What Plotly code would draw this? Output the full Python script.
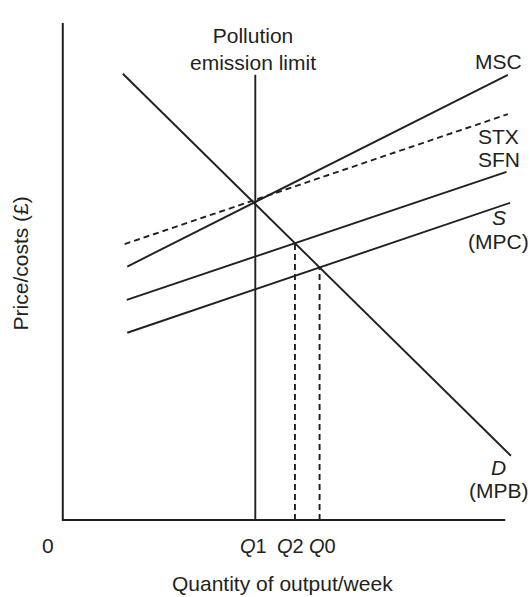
import plotly.graph_objects as go

# ---- data (chart units: quantity 0-100, price 0-100) ----
curve_names = ["D", "MSC", "STX", "SFN", "S"]
x_start = [13.6, 14.6, 14.0, 14.5, 14.6]
y_start = [89.6, 50.9, 55.4, 44.2, 37.6]
x_end = [101.5, 100.8, 100.8, 100.5, 101.3]
y_end = [12.9, 89.4, 81.5, 69.9, 63.7]
curve_dash = ["solid", "solid", "6px,4px", "solid", "solid"]

q1_limit = 43.6          # pollution emission limit
limit_top = 89.4
axis_x_max = 100.2
axis_y_max = 99.8

right_labels = ["MSC", "STX", "SFN", "<i>S</i>", "(MPC)", "<i>D</i>", "(MPB)"]
right_label_y = [92.0, 77.1, 72.3, 60.8, 56.0, 10.6, 6.0]

q_labels = ["<i>Q</i>1", "<i>Q</i>2", "<i>Q</i>0"]
q_label_x = [43.3, 51.5, 58.9]

INK = "#231f20"
FONT = "Liberation Sans, Arial, sans-serif"
FS = 21


def intersect(i, j):
    si = (y_end[i] - y_start[i]) / (x_end[i] - x_start[i])
    sj = (y_end[j] - y_start[j]) / (x_end[j] - x_start[j])
    ci = y_start[i] - si * x_start[i]
    cj = y_start[j] - sj * x_start[j]
    x = (cj - ci) / (si - sj)
    return x, ci + si * x


q2, p2 = intersect(0, 3)   # D with SFN
q0, p0 = intersect(0, 4)   # D with S

fig = go.Figure()

# axes
fig.add_trace(go.Scatter(x=[0, 0, axis_x_max], y=[axis_y_max, 0, 0], mode="lines",
                         line=dict(color=INK, width=2), hoverinfo="skip", showlegend=False))

# curves
for i, name in enumerate(curve_names):
    fig.add_trace(go.Scatter(x=[x_start[i], x_end[i]], y=[y_start[i], y_end[i]],
                             mode="lines", name=name,
                             line=dict(color=INK, width=1.9, dash=curve_dash[i]),
                             showlegend=False))

# pollution limit
fig.add_trace(go.Scatter(x=[q1_limit, q1_limit], y=[0, limit_top], mode="lines",
                         line=dict(color=INK, width=1.9), showlegend=False))

# dashed drop lines
for qx, py in [(q2, p2), (q0, p0)]:
    fig.add_trace(go.Scatter(x=[qx, qx], y=[0, py], mode="lines",
                             line=dict(color=INK, width=1.9, dash="6px,4px"), showlegend=False))

ann = []
for t, yv in zip(right_labels, right_label_y):
    ann.append(dict(x=98.7, y=yv, text=t, showarrow=False, xanchor="center", yanchor="middle",
                    font=dict(size=FS)))

ann.append(dict(x=43.0, y=94.6, text="Pollution<br>emission limit", showarrow=False,
                xanchor="center", yanchor="middle", font=dict(size=FS)))
ann.append(dict(x=-3.4, y=-5.2, text="0", showarrow=False, font=dict(size=FS)))
for lbl, qx in zip(q_labels, q_label_x):
    ann.append(dict(x=qx, y=-5.2, text=lbl, showarrow=False, font=dict(size=20)))
ann.append(dict(x=49.7, y=-12.7, text="Quantity of output/week", showarrow=False,
                font=dict(size=FS)))
ann.append(dict(x=-9.6, y=51.6, text="Price/costs (£)", showarrow=False, textangle=-90,
                font=dict(size=FS)))

for a in ann:
    a["font"].update(family=FONT, color=INK)
    a["xref"] = "x"
    a["yref"] = "y"

fig.update_layout(
    width=530, height=597,
    margin=dict(l=0, r=0, t=0, b=0),
    paper_bgcolor="white", plot_bgcolor="white",
    xaxis=dict(range=[-14.22, 105.82], visible=False, fixedrange=True),
    yaxis=dict(range=[-15.46, 104.42], visible=False, fixedrange=True),
    annotations=ann,
    showlegend=False,
)

fig.write_html(
    "out.html",
    config={"displayModeBar": False, "staticPlot": True},
    post_script="document.body.style.margin='0';document.body.style.overflow='hidden';",
)
